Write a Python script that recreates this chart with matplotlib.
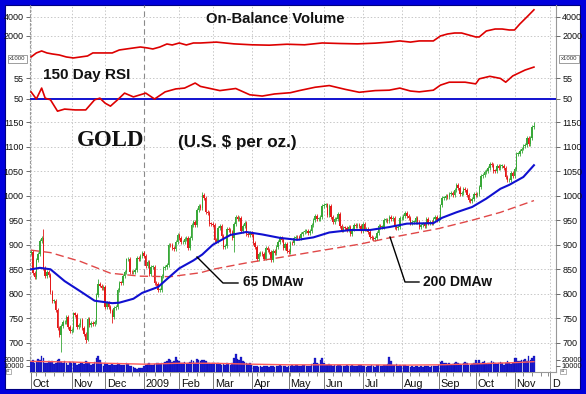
import numpy as np
import pandas as pd
import matplotlib
matplotlib.use('Agg')
import matplotlib.pyplot as plt
from matplotlib.patches import Rectangle
from matplotlib.lines import Line2D
from matplotlib.ticker import NullLocator

plt.rcParams['font.family'] = ['Liberation Sans', 'DejaVu Sans']

# ---------------- data ----------------
holidays = ['2008-11-27', '2008-12-25', '2009-01-01', '2009-01-19', '2009-02-16',
            '2009-04-10', '2009-05-25', '2009-07-03', '2009-09-07', '2009-11-26']

first_open = 884
close_oct08 = [886, 843, 835, 869, 882, 907, 913, 853, 837, 845, 839, 803, 785, 786, 768, 731, 716, 735, 742, 743, 753, 733, 725]
close_nov08 = [727, 760, 757, 733, 737, 747, 730, 718, 707, 748, 737, 741, 739, 743, 797, 820, 817, 812, 814]
close_dec08 = [773, 782, 773, 765, 752, 771, 773, 808, 823, 822, 836, 845, 870, 871, 845, 844, 845, 849, 873, 871, 878, 884]
close_jan09 = [878, 857, 865, 841, 855, 855, 822, 820, 808, 808, 837, 853, 854, 858, 900, 899, 893, 891, 906, 919]
close_feb09 = [914, 905, 906, 912, 914, 893, 913, 941, 946, 941, 970, 978, 975, 1002, 995, 967, 964, 943, 942]
close_mar09 = [940, 910, 907, 935, 939, 917, 896, 897, 932, 930, 926, 913, 943, 957, 953, 955, 927, 938, 944, 922, 920, 924]
close_apr09 = [920, 903, 896, 870, 881, 884, 881, 872, 893, 890, 886, 868, 887, 883, 895, 905, 913, 910, 894, 901, 887]
close_may09 = [885, 904, 903, 914, 916, 915, 913, 922, 925, 928, 929, 924, 928, 941, 951, 958, 952, 952, 956, 979]
close_jun09 = [981, 982, 961, 979, 956, 946, 952, 953, 962, 939, 929, 935, 934, 930, 937, 921, 931, 941, 939, 941, 938, 927]
close_jul09 = [943, 931, 932, 926, 915, 914, 912, 914, 924, 938, 937, 937, 950, 951, 948, 956, 953, 954, 936, 935, 937, 954]
close_aug09 = [954, 959, 964, 958, 955, 945, 946, 947, 954, 946, 936, 940, 943, 939, 953, 945, 946, 945, 953, 956, 951]
close_sep09 = [955, 980, 995, 996, 1000, 997, 1004, 1006, 1001, 1012, 1021, 1016, 1003, 1006, 1014, 1011, 1001, 992, 990, 993, 1003]
close_oct09 = [1002, 1003, 1017, 1040, 1043, 1049, 1050, 1056, 1065, 1063, 1051, 1050, 1061, 1057, 1061, 1061, 1056, 1038, 1031, 1031, 1046, 1040]
close_nov09 = [1055, 1085, 1085, 1091, 1096, 1102, 1103, 1117, 1105, 1118, 1139, 1142]

wick_high = {7: 933, 38: 830, 97: 1007, 285: 1150}
wick_low = {17: 681, 31: 700, 46: 741, 115: 886}

vol_oct08 = [16, 19, 14, 17, 21, 19, 25, 22, 15, 14, 17, 16, 18, 13, 14, 19, 21, 16, 15, 17, 14, 12, 16]
vol_nov08 = [14, 16, 15, 12, 13, 14, 15, 13, 17, 16, 14, 12, 13, 16, 22, 25, 19, 14, 10]
vol_dec08 = [15, 13, 12, 11, 13, 12, 11, 14, 13, 12, 11, 12, 14, 13, 10, 9, 8, 6, 5, 7, 7, 6]
vol_jan09 = [9, 12, 13, 14, 12, 11, 13, 14, 15, 13, 14, 15, 16, 17, 21, 19, 16, 18, 24, 20]
vol_feb09 = [17, 15, 14, 16, 13, 14, 16, 19, 18, 15, 21, 19, 17, 20, 19, 17, 15, 14, 13]
vol_mar09 = [14, 15, 13, 14, 13, 12, 13, 12, 15, 13, 12, 14, 23, 29, 21, 19, 24, 17, 16, 15, 13, 14]
vol_apr09 = [11, 10, 9, 10, 8, 9, 8, 9, 10, 9, 8, 10, 9, 8, 9, 10, 11, 9, 10, 9, 8]
vol_may09 = [9, 10, 11, 10, 12, 11, 9, 10, 11, 12, 10, 9, 10, 13, 15, 23, 14, 13, 20, 22]
vol_jun09 = [14, 12, 11, 13, 12, 10, 11, 10, 12, 11, 10, 9, 10, 11, 9, 10, 11, 10, 9, 10, 11, 12]
vol_jul09 = [10, 9, 8, 9, 10, 11, 9, 8, 11, 12, 10, 9, 12, 11, 13, 24, 18, 12, 11, 13, 10, 12]
vol_aug09 = [10, 11, 12, 10, 9, 8, 9, 8, 10, 9, 8, 9, 8, 9, 10, 9, 8, 9, 10, 9, 10]
vol_sep09 = [12, 16, 18, 14, 15, 13, 14, 12, 13, 15, 16, 14, 13, 12, 15, 16, 14, 12, 11, 13, 14]
vol_oct09 = [20, 14, 19, 15, 16, 18, 13, 14, 15, 17, 16, 14, 13, 15, 16, 14, 12, 15, 17, 14, 13, 15]
vol_nov09 = [22, 23, 17, 18, 20, 19, 21, 18, 25, 19, 22, 26]

ma65_idx = [0, 5, 11, 19, 28, 36, 42, 46, 50, 58, 63, 72, 77, 84, 92, 97, 103, 113, 122, 131,
            141, 151, 160, 169, 181, 192, 203, 213, 228, 233, 241, 250, 258, 266, 271, 279, 285]
ma65_val = [850, 853, 850, 826, 805, 786, 783, 781, 782, 790, 802, 814, 830, 852, 868, 880, 900, 920, 926, 921,
            914, 910, 915, 925, 930, 930, 936, 943, 944, 955, 966, 977, 994, 1014, 1022, 1038, 1062]

ma200_idx = [0, 11, 28, 45, 62, 79, 96, 103, 122, 141, 164, 186, 203, 231, 250, 266, 285]
ma200_val = [889, 884, 866, 842, 836, 835, 843, 850, 863, 874, 888, 901, 914, 933, 950, 966, 990]

obv_idx = [0, 3, 6, 9, 12, 16, 20, 24, 28, 32, 35, 39, 43, 46, 50, 54, 58, 62, 66, 69, 73, 77, 80, 84, 88,
           92, 96, 105, 115, 125, 135, 145, 155, 165, 175, 185, 195, 203, 209, 215, 220, 228, 232, 236,
           240, 244, 248, 252, 254, 258, 263, 267, 271, 274, 277, 281, 285]
obv_val = [930, 1077, 1158, 1077, 1038, 1000, 930, 897, 930, 964, 1077, 1077, 1077, 1077, 1200, 1245, 1291,
           1338, 1291, 1245, 1338, 1494, 1441, 1549, 1441, 1549, 1549, 1600, 1500, 1450, 1430, 1480, 1450,
           1550, 1520, 1500, 1540, 1600, 1670, 1600, 1670, 1670, 2000, 2150, 2230, 2230, 2075, 1930, 1930,
           2400, 2580, 2580, 2490, 2490, 3100, 4000, 5200]

rsi_idx = [0, 3, 6, 8, 11, 15, 19, 25, 31, 36, 39, 42, 45, 49, 53, 58, 65, 70, 76, 82, 87, 93, 96, 107,
           116, 124, 131, 138, 147, 152, 161, 169, 178, 186, 195, 203, 209, 215, 220, 228, 232, 237, 246,
           252, 254, 260, 266, 269, 273, 280, 285]
rsi_val = [51.7, 50.0, 52.6, 50.2, 49.8, 47.1, 47.6, 47.4, 47.4, 49.8, 50.2, 49.0, 48.3, 49.8, 51.4, 50.5,
           51.4, 50.0, 51.7, 52.4, 52.6, 53.8, 53.0, 52.0, 52.5, 51.0, 50.7, 51.2, 51.5, 52.0, 52.8, 53.2,
           52.3, 51.6, 52.0, 52.1, 52.6, 51.9, 51.7, 52.1, 53.3, 54.0, 54.0, 53.6, 54.8, 55.4, 54.9, 54.0,
           55.5, 56.9, 57.6]

volma_idx = [0, 23, 42, 64, 84, 103, 125, 146, 166, 188, 210, 231, 252, 274, 285]
volma_val = [17, 16, 14, 12.5, 14, 14, 12.5, 11.5, 11.5, 11.5, 11, 11.5, 13, 15, 16.5]

month_labels = ['Oct', 'Nov', 'Dec', '2009', 'Feb', 'Mar', 'Apr', 'May', 'Jun', 'Jul', 'Aug',
                'Sep', 'Oct', 'Nov', 'D']
price_ticks = [700, 750, 800, 850, 900, 950, 1000, 1050, 1100, 1150]
obv_ticks = [2000, 4000]
rsi_ticks = [50, 55]
vol_ticks = [10, 20]
vol_tick_labels = ['10000', '20000']

# ---------------- derived ----------------
closes = np.array(close_oct08 + close_nov08 + close_dec08 + close_jan09 + close_feb09 + close_mar09 +
                  close_apr09 + close_may09 + close_jun09 + close_jul09 + close_aug09 + close_sep09 +
                  close_oct09 + close_nov09, dtype=float)
vols = np.array(vol_oct08 + vol_nov08 + vol_dec08 + vol_jan09 + vol_feb09 + vol_mar09 + vol_apr09 +
                vol_may09 + vol_jun09 + vol_jul09 + vol_aug09 + vol_sep09 + vol_oct09 + vol_nov09, dtype=float)
n = len(closes)
idx = np.arange(n)

days = pd.bdate_range('2008-10-01', '2009-12-04', freq='C', holidays=holidays)
per = days.to_period('M')
month_starts = np.r_[0, np.nonzero(per[1:] != per[:-1])[0] + 1]
week_starts = np.nonzero(np.diff(days.weekday) < 0)[0] + 1

# ---------------- figure ----------------
W, H = 586, 394
fig = plt.figure(figsize=(W / 100, H / 100), dpi=100)
fig.patch.set_facecolor('#0000dd')
fig.add_artist(Rectangle((5 / W, 5 / H), 575 / W, 384 / H, transform=fig.transFigure,
                         facecolor='white', edgecolor='#000080', lw=0.8, zorder=0))

XL = (-0.6, 297.5)
L, R = 30, 556


def add_px(top, bottom, z=1):
    ax = fig.add_axes([L / W, 1 - bottom / H, (R - L) / W, (bottom - top) / H])
    ax.set_facecolor('none')
    ax.set_zorder(z)
    ax.set_xlim(XL)
    return ax


def panel(top, bottom, z=2):
    ax = add_px(top, bottom, z)
    for s in ax.spines.values():
        s.set_visible(False)
    ax.set_xticks([])
    ax.tick_params(axis='y', which='major', left=True, right=True, labelleft=True, labelright=True,
                   length=3, width=0.6, color='#555555', pad=1.5, labelsize=6.5, labelcolor='#111111')
    return ax


GRID = '#c8c8c8'

# background: vertical grid, x axis
bg = add_px(5, 372, z=1)
bg.set_ylim(0, 1)
bg.set_yticks([])
bg.spines['top'].set_visible(False)
for s in ['left', 'right', 'bottom']:
    bg.spines[s].set_color('#999999')
    bg.spines[s].set_linewidth(0.8)
bg.spines['left'].set_linestyle((0, (2, 2)))
for k, m in enumerate(month_starts):
    if month_labels[k] == '2009':
        bg.axvline(m, color='#8a8a8a', lw=0.8, ls=(0, (5, 3)))
    else:
        bg.axvline(m, color=GRID, lw=0.7, ls=(0, (1.5, 2)))
bg.set_xticks(month_starts)
bg.set_xticklabels([])
bg.set_xticks(week_starts, minor=True)
bg.tick_params(axis='x', which='major', length=12, width=0.7, color='#777777', direction='out')
bg.tick_params(axis='x', which='minor', length=3, width=0.6, color='#777777', direction='out')
for k, m in enumerate(month_starts):
    bg.text(m + 1.1, -12 / 367, month_labels[k], transform=bg.get_xaxis_transform(),
            ha='left', va='center', fontsize=7.8, color='#111111', clip_on=False)

# OBV panel
ax_obv = panel(5, 62)
ax_obv.set_yscale('log')
ax_obv.set_ylim(774, 6196)
ax_obv.set_yticks(obv_ticks)
ax_obv.set_yticklabels([str(t) for t in obv_ticks])
ax_obv.yaxis.set_minor_locator(NullLocator())
for t in obv_ticks:
    ax_obv.axhline(t, color=GRID, lw=0.7, ls=(0, (1.5, 2)), zorder=0)
ax_obv.plot(obv_idx, obv_val, color='#dd0000', lw=1.2)

# RSI panel
ax_rsi = panel(62, 115)
ax_rsi.set_ylim(46.19, 58.81)
ax_rsi.set_yticks(rsi_ticks)
ax_rsi.set_yticklabels([str(t) for t in rsi_ticks])
ax_rsi.axhline(55, color=GRID, lw=0.7, ls=(0, (1.5, 2)), zorder=0)
ax_rsi.axhline(50, color='#0000cc', lw=1.3, zorder=1)
ax_rsi.plot(rsi_idx, rsi_val, color='#dd0000', lw=1.2, zorder=2)

# Price panel
ax_p = panel(115, 356, z=3)
ax_p.set_ylim(673.4, 1164.3)
ax_p.set_yticks(price_ticks)
ax_p.set_yticklabels([str(t) for t in price_ticks])
for t in price_ticks:
    ax_p.axhline(t, color=GRID, lw=0.7, ls=(0, (1.5, 2)), zorder=0)

opens = np.r_[first_open, closes[:-1]]
up = closes >= opens
GREEN, RED = '#38a838', '#e41a1a'
cols = np.where(up, GREEN, RED)
lo = np.minimum(opens, closes)
hi = np.maximum(opens, closes)
WICK = 4.0
whi = hi + WICK
wlo = lo - WICK
for k, v in wick_high.items():
    whi[k] = v
for k, v in wick_low.items():
    wlo[k] = v
ax_p.vlines(idx, wlo, whi, colors=cols, lw=0.6, zorder=2)
ax_p.bar(idx, np.maximum(hi - lo, 1.5), bottom=lo, width=0.8, color=cols, linewidth=0, zorder=2)

ax_p.plot(ma200_idx, ma200_val, color='#e04848', lw=1.0, ls=(0, (6, 3)), zorder=3)
ax_p.plot(ma65_idx, ma65_val, color='#1010d0', lw=1.5, zorder=4)

# Volume panel
ax_v = panel(350, 372, z=2)
ax_v.set_ylim(0, 35.2)
ax_v.set_yticks(vol_ticks)
ax_v.set_yticklabels(vol_tick_labels)
ax_v.tick_params(axis='y', labelsize=5.3, pad=1)
ax_v.bar(idx, vols, width=0.92, color='#1f1fd2', edgecolor='#0000a0', linewidth=0.2, zorder=2)
ax_v.plot(volma_idx, volma_val, color='#ff5a5a', lw=1.0, zorder=3)


def fx(x):
    return x / W


def fy(y):
    return 1 - y / H


# unit boxes
for xc in (17.5, 569):
    fig.text(fx(xc), fy(59), 'x1000', ha='center', va='center', fontsize=4.3, color='#333333',
             bbox=dict(boxstyle='square,pad=0.25', fc='white', ec='#777777', lw=0.5), zorder=10)
for xc in (8.5, 563):
    fig.text(fx(xc), fy(371.5), 'x1', ha='center', va='center', fontsize=2.8, color='#333333',
             bbox=dict(boxstyle='square,pad=0.1', fc='none', ec='#777777', lw=0.4), zorder=10)

# titles and annotations
fig.text(fx(275), fy(19), 'On-Balance Volume', ha='center', va='center', fontsize=10.7,
         fontweight='bold', color='#111111', zorder=10)
fig.text(fx(43), fy(75), '150 Day RSI', ha='left', va='center', fontsize=11,
         fontweight='bold', color='#111111', zorder=10)
fig.text(fx(111), fy(140.5), 'GOLD', ha='center', va='center', fontsize=16.5, fontweight='bold',
         family=['Liberation Serif', 'DejaVu Serif'], color='#111111', zorder=10)
fig.text(fx(178), fy(143), '(U.S. $ per oz.)', ha='left', va='center', fontsize=12.3,
         fontweight='bold', color='#111111', zorder=10)
fig.text(fx(243), fy(282), '65 DMAw', ha='left', va='center', fontsize=9.8,
         fontweight='bold', color='#111111', zorder=10)
fig.text(fx(423), fy(281.5), '200 DMAw', ha='left', va='center', fontsize=10,
         fontweight='bold', color='#111111', zorder=10)
fig.add_artist(Line2D([fx(197), fx(223), fx(238)], [fy(257), fy(283), fy(283)],
                      transform=fig.transFigure, color='black', lw=1.0, zorder=10))
fig.add_artist(Line2D([fx(390), fx(405), fx(419)], [fy(237), fy(282), fy(282)],
                      transform=fig.transFigure, color='black', lw=1.0, zorder=10))

fig.savefig('out.png', dpi=100, facecolor=fig.get_facecolor())
